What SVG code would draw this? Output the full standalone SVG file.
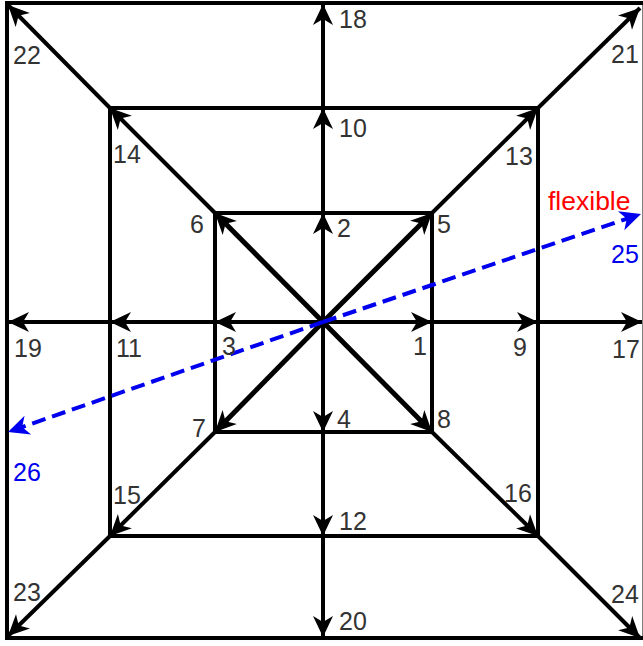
<svg xmlns="http://www.w3.org/2000/svg" width="643" height="646" viewBox="0 0 643 646">
<style>
.sq{fill:none;stroke:#000;stroke-width:4}
.ln{fill:none;stroke:#000;stroke-width:4;marker-end:url(#ah)}
.th{stroke-width:5}
.bl{fill:none;stroke:#0000ee;stroke-width:4;stroke-dasharray:14,7;marker-end:url(#ahb)}
text{font-family:"Liberation Sans",Arial,sans-serif;font-size:25px;fill:#333}
.red{fill:#f00;font-size:26.5px}
.blu{fill:#00e}
</style>
<defs>
<marker id="ah" markerUnits="userSpaceOnUse" markerWidth="26" markerHeight="26" viewBox="-24 -13 26 26" refX="0" refY="0" orient="auto"><path d="M0,0 L-21,-10 L-15,0 L-21,10 Z" fill="#000"/></marker>
<marker id="ahb" markerUnits="userSpaceOnUse" markerWidth="26" markerHeight="26" viewBox="-24 -13 26 26" refX="0" refY="0" orient="auto"><path d="M0,0 L-21,-10 L-15,0 L-21,10 Z" fill="#00e"/></marker>
</defs>
<g id="squares">
<rect class="sq" x="7" y="3" width="637.5" height="635"/>
<rect class="sq" x="110" y="108" width="428" height="428"/>
<rect class="sq" x="215" y="213" width="217" height="219"/>
</g>
<g id="connectors">
<line class="ln" x1="323" y1="322" x2="432" y2="322"/>
<line class="ln" x1="323" y1="322" x2="323" y2="213"/>
<line class="ln" x1="323" y1="322" x2="215" y2="322"/>
<line class="ln" x1="323" y1="322" x2="323" y2="432"/>
<line class="ln th" x1="323" y1="322" x2="432" y2="213"/>
<line class="ln th" x1="323" y1="322" x2="215" y2="213"/>
<line class="ln th" x1="323" y1="322" x2="215" y2="432"/>
<line class="ln th" x1="323" y1="322" x2="432" y2="432"/>
<line class="ln" x1="432" y1="322" x2="538" y2="322"/>
<line class="ln" x1="323" y1="213" x2="323" y2="108"/>
<line class="ln" x1="215" y1="322" x2="110" y2="322"/>
<line class="ln" x1="323" y1="432" x2="323" y2="536"/>
<line class="ln" x1="432" y1="213" x2="538" y2="108"/>
<line class="ln" x1="215" y1="213" x2="110" y2="108"/>
<line class="ln" x1="215" y1="432" x2="110" y2="536"/>
<line class="ln" x1="432" y1="432" x2="538" y2="536"/>
<line class="ln" x1="538" y1="322" x2="642" y2="322"/>
<line class="ln" x1="323" y1="108" x2="323" y2="4"/>
<line class="ln" x1="110" y1="322" x2="8" y2="322"/>
<line class="ln" x1="323" y1="536" x2="323" y2="637"/>
<line class="ln" x1="538" y1="108" x2="640" y2="8"/>
<line class="ln" x1="110" y1="108" x2="8" y2="5"/>
<line class="ln" x1="110" y1="536" x2="8" y2="636"/>
<line class="ln" x1="538" y1="536" x2="640" y2="638"/>
<line class="bl" x1="323" y1="322" x2="641" y2="214"/>
<line class="bl" x1="323" y1="322" x2="8" y2="432"/>
</g>
<g id="labels">
<text x="413" y="355">1</text>
<text x="337" y="237">2</text>
<text x="222" y="355">3</text>
<text x="337" y="428">4</text>
<text x="437" y="233">5</text>
<text x="190" y="233">6</text>
<text x="192" y="437">7</text>
<text x="437" y="428">8</text>
<text x="513" y="356">9</text>
<text x="339" y="137">10</text>
<text x="116" y="357">11</text>
<text x="339" y="530">12</text>
<text x="505" y="165">13</text>
<text x="113" y="163">14</text>
<text x="113" y="504">15</text>
<text x="504" y="502">16</text>
<text x="612" y="358">17</text>
<text x="339" y="28">18</text>
<text x="14" y="357">19</text>
<text x="339" y="630">20</text>
<text x="611" y="63">21</text>
<text x="13" y="64">22</text>
<text x="13" y="601">23</text>
<text x="611" y="603">24</text>
<text class="blu" x="611" y="263">25</text>
<text class="blu" x="13" y="481">26</text>
<text class="red" x="548" y="210">flexible</text>
</g>
</svg>
